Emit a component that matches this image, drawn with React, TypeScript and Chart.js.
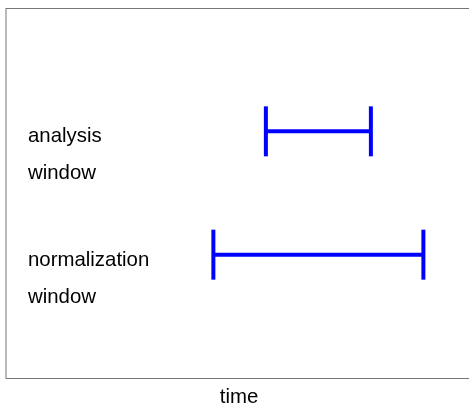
import React, { useEffect, useRef } from "react";
import { Chart, registerables } from "chart.js";

Chart.register(...registerables);

const rowNames: string[][] = [["analysis", "window"], ["normalization", "window"]];
const rowLevels: number[] = [2, 1];
const windowStarts: number[] = [5, 4];
const windowEnds: number[] = [7, 8];
const xLabel = "time";
const xMin = 0.05;
const xMax = 8.85;
const yMin = 0;
const yMax = 3;

const FONT = '20.4px "Liberation Sans", Arial, sans-serif';

const labelPlugin = {
  id: "labelsAndFrame",
  afterDraw(chart: any) {
    const { ctx, chartArea } = chart;
    const ys = chart.scales.y;
    ctx.save();
    // frame
    ctx.lineWidth = 1;
    ctx.strokeStyle = "#777777";
    ctx.beginPath();
    ctx.moveTo(chartArea.left, chartArea.top + 0.5);
    ctx.lineTo(chartArea.right + 1, chartArea.top + 0.5);
    ctx.stroke();
    ctx.beginPath();
    ctx.moveTo(chartArea.left, chartArea.top);
    ctx.lineTo(chartArea.left, chartArea.bottom + 1);
    ctx.stroke();
    ctx.beginPath();
    ctx.moveTo(chartArea.left, chartArea.bottom + 0.5);
    ctx.lineTo(chartArea.right + 1, chartArea.bottom + 0.5);
    ctx.stroke();
    // row labels
    ctx.fillStyle = "#000000";
    ctx.font = FONT;
    ctx.textAlign = "left";
    ctx.textBaseline = "alphabetic";
    rowNames.forEach((lines, i) => {
      const yc = ys.getPixelForValue(rowLevels[i]);
      lines.forEach((t, j) => {
        ctx.fillText(t, chartArea.left + 22, yc + 11 + j * 37);
      });
    });
    // x label
    ctx.textAlign = "center";
    ctx.fillText(xLabel, (chartArea.left + chartArea.right) / 2 + 2, chartArea.bottom + 25);
    ctx.restore();
  },
};

export default function App() {
  const ref = useRef<HTMLCanvasElement | null>(null);
  useEffect(() => {
    if (!ref.current) return;
    const datasets = rowLevels.map((lvl, i) => ({
      label: rowNames[i].join(" "),
      data: [
        { x: windowStarts[i], y: lvl },
        { x: windowEnds[i], y: lvl },
      ],
      borderColor: "#0000ff",
      backgroundColor: "#0000ff",
      borderWidth: 4,
      showLine: true,
      pointStyle: "line",
      rotation: 90,
      pointRadius: 25,
      pointHoverRadius: 25,
      pointBorderWidth: 4,
      pointBorderColor: "#0000ff",
      clip: false,
    }));
    const chart = new Chart(ref.current, {
      type: "scatter",
      data: { datasets } as any,
      options: {
        animation: false,
        responsive: false,
        devicePixelRatio: 1,
        layout: { autoPadding: false, padding: { left: 6, top: 8, right: 1, bottom: 28 } },
        plugins: { legend: { display: false }, tooltip: { enabled: false } },
        scales: {
          x: { type: "linear", min: xMin, max: xMax, display: false },
          y: { type: "linear", min: yMin, max: yMax, display: false },
        },
      } as any,
      plugins: [labelPlugin],
    });
    return () => chart.destroy();
  }, []);
  return (
    <div style={{ position: "fixed", left: 0, top: 0, width: 469, height: 406, background: "#fff" }}>
      <canvas ref={ref} width={469} height={406} style={{ display: "block" }} />
    </div>
  );
}
